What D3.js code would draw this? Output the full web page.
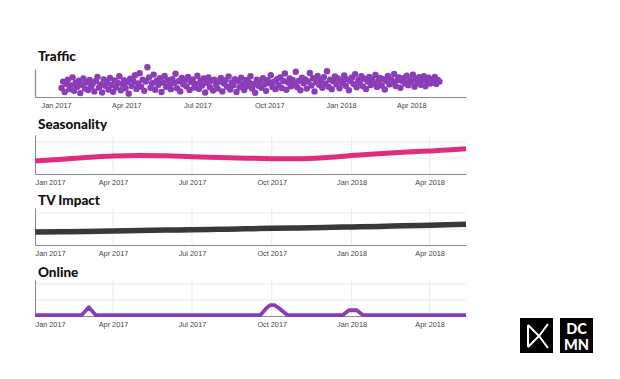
<!DOCTYPE html>
<html lang="en">
<head>
    <meta charset="UTF-8">
    <title>Traffic decomposition</title>
    <script src="https://d3js.org/d3.v7.min.js"></script>
    <style>
        body {
            width: 620px;
            height: 379px;
            margin: 0;
            background: #fff;
            font-family: Lato, "Open Sans", sans-serif;
        }

        .panel-title {
            font-size: 13.5px;
            font-weight: 900;
            fill: #111;
        }

        .axis text {
            font-size: 7.3px;
            fill: #444;
        }

        .axis path {
            stroke: #8a8a8a;
        }

        .grid line {
            stroke: #ececec;
            stroke-width: 1;
        }
    </style>
</head>
<body>
    <svg id="chart" width="620" height="379"></svg>

    <script>
        // Quarter ticks shared by all panels
        const tickDates = ['2017-01-01', '2017-04-01', '2017-07-01', '2017-10-01', '2018-01-01', '2018-04-01'];
        const tickLabels = ['Jan 2017', 'Apr 2017', 'Jul 2017', 'Oct 2017', 'Jan 2018', 'Apr 2018'];

        // Traffic: one reading every second day from 8 Jan 2017
        const trafficStart = '2017-01-08';
        const trafficStepDays = 2;
        const trafficValues = [
            32, 55, 18, 47, 62, 28, 41, 70, 22, 50,
            36, 58, 14, 44, 66, 30, 52, 25, 61, 38,
            48, 20, 57, 72, 34, 45, 16, 63, 40, 54,
            27, 68, 43, 19, 59, 35, 50, 74, 24, 46,
            60, 31, 53, 12, 65, 39, 57, 78, 29, 48,
            85, 37, 62, 22, 55, 106, 70, 33, 49, 80,
            26, 58, 44, 67, 18, 52, 75, 36, 61, 42,
            28, 64, 50, 83, 31, 56, 20, 68, 45, 59,
            38, 72, 25, 54, 63, 34, 47, 76, 29, 57,
            41, 66, 16, 51, 70, 35, 58, 23, 62, 44,
            30, 55, 68, 20, 48, 60, 37, 73, 27, 52,
            42, 64, 18, 57, 35, 69, 46, 25, 61, 39,
            53, 74, 30, 47, 15, 62, 40, 58, 33, 67,
            45, 22, 60, 50, 78, 36, 55, 28, 64, 43,
            70, 32, 57, 84, 26, 52, 66, 38, 61, 47,
            90, 35, 58, 24, 69, 49, 63, 30, 55, 86,
            41, 67, 20, 53, 75, 44, 60, 33, 71, 48,
            92, 37, 62, 28, 56, 73, 45, 66, 31, 58,
            50, 77, 40, 63, 24, 57, 70, 46, 81, 35,
            60, 52, 74, 38, 65, 29, 55, 72, 43, 62,
            48, 79, 36, 58, 68, 41, 64, 27, 57, 75,
            45, 63, 52, 82, 39, 60, 70, 33, 58, 67,
            49, 76, 42, 62, 55, 80, 37, 65, 51, 71,
            44, 60, 74, 38, 57, 69, 48, 63, 52, 72,
            46, 61, 55
        ];

        // Seasonality (monthly)
        const seasonDates = ['2017-01-01', '2017-02-01', '2017-03-01', '2017-04-01', '2017-05-01', '2017-06-01',
            '2017-07-01', '2017-08-01', '2017-09-01', '2017-10-01', '2017-11-01', '2017-12-01',
            '2018-01-01', '2018-02-01', '2018-03-01', '2018-04-01', '2018-05-01', '2018-05-13'];
        const seasonValues = [0.81, 0.92, 1.03, 1.12, 1.15, 1.14, 1.08, 1.03, 0.99, 0.96, 0.95, 1.02,
            1.16, 1.27, 1.36, 1.44, 1.53, 1.58];

        // TV impact (monthly)
        const tvDates = seasonDates;
        const tvValues = [0.81, 0.83, 0.85, 0.88, 0.90, 0.93, 0.95, 0.98, 1.01, 1.04, 1.07, 1.10,
            1.13, 1.16, 1.20, 1.24, 1.28, 1.30];

        // Online (flat with three bursts)
        const onlineDates = ['2017-01-01', '2017-02-24', '2017-03-04', '2017-03-12', '2017-09-18', '2017-09-25',
            '2017-09-29', '2017-10-04', '2017-10-09', '2017-10-19', '2017-12-22', '2017-12-29', '2018-01-07',
            '2018-01-14', '2018-05-13'];
        const onlineValues = [0.06, 0.06, 0.55, 0.06, 0.06, 0.5, 0.68, 0.68, 0.5, 0.06, 0.06, 0.36, 0.36,
            0.06, 0.06];

        const parse = d3.timeParse('%Y-%m-%d');
        const svg = d3.select('#chart');

        const left = 35, right = 466;

        // ---------- Traffic ----------
        const xTraffic = d3.scaleTime()
            .domain([new Date(2016, 11, 5), new Date(2018, 5, 10)])
            .range([left, right]);
        const yTraffic = d3.scaleLinear().domain([0, 100]).range([97, 69]);

        const t0 = parse(trafficStart);
        const trafficData = trafficValues.map((v, i) => ({
            date: d3.timeDay.offset(t0, i * trafficStepDays),
            value: v
        }));

        svg.append('text').attr('class', 'panel-title')
            .attr('x', 38).attr('y', 61).text('Traffic');

        svg.append('g').selectAll('circle')
            .data(trafficData)
            .join('circle')
            .attr('cx', d => xTraffic(d.date))
            .attr('cy', d => yTraffic(d.value))
            .attr('r', 3.2)
            .attr('fill', '#8b3db8');

        const trafficAxis = svg.append('g')
            .attr('class', 'axis')
            .attr('transform', 'translate(0,97)')
            .call(d3.axisBottom(xTraffic)
                .tickValues(tickDates.map(parse))
                .tickFormat((d, i) => tickLabels[i])
                .tickSize(0)
                .tickSizeOuter(0)
                .tickPadding(6));
        trafficAxis.select('.domain').attr('stroke-width', 1.2);

        svg.append('g')
            .attr('class', 'axis')
            .attr('transform', `translate(${left},0)`)
            .call(d3.axisLeft(yTraffic).tickValues([]).tickSizeOuter(0))
            .select('.domain').attr('stroke-width', 1.2);

        // ---------- Line panels ----------
        const xLower = d3.scaleTime()
            .domain([new Date(2017, 0, 1), new Date(2018, 4, 13)])
            .range([left, right]);

        const panels = [
            { title: 'Seasonality', titleY: 129, top: 135, bottom: 174, dates: seasonDates, values: seasonValues, color: '#e22b7c', width: 5, curve: d3.curveMonotoneX },
            { title: 'TV Impact', titleY: 205, top: 208, bottom: 245, dates: tvDates, values: tvValues, color: '#383838', width: 5.5, curve: d3.curveMonotoneX },
            { title: 'Online', titleY: 277, top: 280, bottom: 316, dates: onlineDates, values: onlineValues, color: '#8b3db8', width: 3.8, curve: d3.curveLinear }
        ];

        panels.forEach(p => {
            const y = d3.scaleLinear()
                .domain([0, (p.bottom - p.top) / 16])
                .range([p.bottom, p.top]);

            svg.append('text').attr('class', 'panel-title')
                .attr('x', 38).attr('y', p.titleY).text(p.title);

            // grid
            const grid = svg.append('g').attr('class', 'grid');
            grid.selectAll('.h')
                .data([1, 2])
                .join('line')
                .attr('x1', left).attr('x2', right)
                .attr('y1', d => y(d)).attr('y2', d => y(d));
            grid.selectAll('.v')
                .data(tickDates.slice(1).map(parse))
                .join('line')
                .attr('x1', d => xLower(d)).attr('x2', d => xLower(d))
                .attr('y1', p.top).attr('y2', p.bottom);

            const ax = svg.append('g')
                .attr('class', 'axis')
                .attr('transform', `translate(0,${p.bottom})`)
                .call(d3.axisBottom(xLower)
                    .tickValues(tickDates.map(parse))
                    .tickFormat((d, i) => tickLabels[i])
                    .tickSize(0)
                    .tickSizeOuter(0)
                    .tickPadding(6));
            ax.selectAll('.tick text').filter((d, i) => i === 0).attr('text-anchor', 'start');

            svg.append('g')
                .attr('class', 'axis')
                .attr('transform', `translate(${left},0)`)
                .call(d3.axisLeft(y).tickValues([]).tickSizeOuter(0));

            const data = p.dates.map((d, i) => ({ date: parse(d), value: p.values[i] }));
            const line = d3.line()
                .x(d => xLower(d.date))
                .y(d => y(d.value))
                .curve(p.curve);

            svg.append('path')
                .datum(data)
                .attr('d', line)
                .attr('fill', 'none')
                .attr('stroke', p.color)
                .attr('stroke-width', p.width)
                .attr('stroke-linejoin', 'round');
        });

        // ---------- DCMN logo ----------
        const logo = svg.append('g');
        logo.append('rect').attr('x', 520).attr('y', 318).attr('width', 33).attr('height', 35).attr('fill', '#000');
        logo.append('path')
            .attr('d', 'M528,325 L528,347 M528,325 L539,336 L528,347 M539,336 L548,324 M539,336 L548,348')
            .attr('fill', 'none')
            .attr('stroke', '#fff')
            .attr('stroke-width', 2);
        logo.append('rect').attr('x', 560).attr('y', 318).attr('width', 33).attr('height', 35).attr('fill', '#000');
        logo.append('text').attr('x', 576.5).attr('y', 334)
            .attr('text-anchor', 'middle').attr('fill', '#fff')
            .style('font-size', '14.5px').style('font-weight', 900).text('DC');
        logo.append('text').attr('x', 576.5).attr('y', 349.5)
            .attr('text-anchor', 'middle').attr('fill', '#fff')
            .style('font-size', '14.5px').style('font-weight', 900).text('MN');
    </script>
</body>
</html>
